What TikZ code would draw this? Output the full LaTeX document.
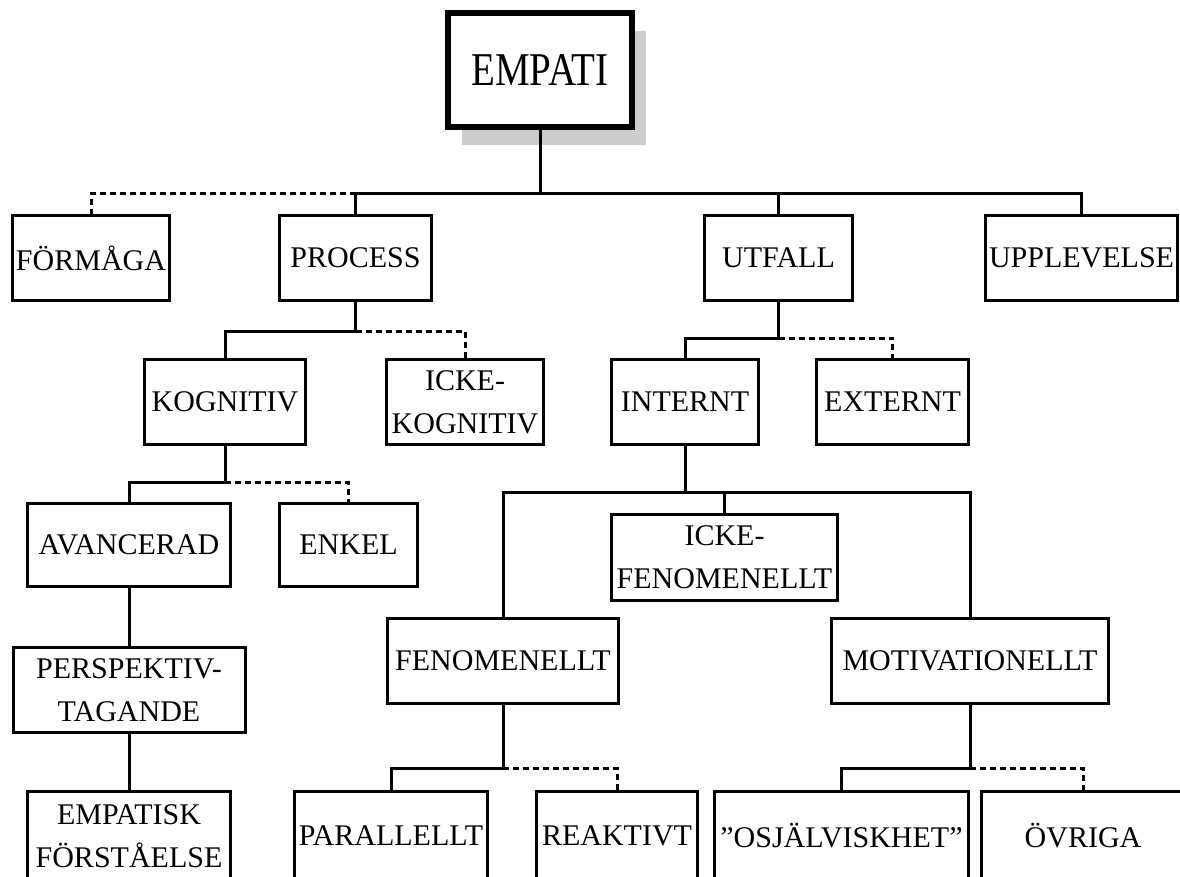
\documentclass[tikz,border=0pt]{standalone}
\usepackage{fontspec}
\setmainfont{Liberation Serif}
\usetikzlibrary{shadows}
\tikzset{
	boxstyle/.style={rectangle,draw=black,line width=3pt,fill=white,inner sep=0pt,align=center,font=\fontsize{30}{43}\selectfont},
	linkstyle/.style={draw=black,line width=3pt},
	optstyle/.style={draw=black,line width=3pt,dash pattern=on 6pt off 4pt}
}

\begin{document}
\begin{tikzpicture}[x=1pt,y=-1pt]
	\useasboundingbox[fill=white] (0,0) rectangle (1180,876);
	% top
	\node[boxstyle,line width=6pt,minimum width=184pt,minimum height=114pt,general shadow={fill=black!20,shadow xshift=14pt,shadow yshift=-18pt}] (empati) at (540,70) {\fontsize{47}{50}\selectfont\scalebox{0.83}[1]{EMPATI}};
	% level 1
	\node[boxstyle,minimum width=157pt,minimum height=85pt] (formaga) at (91,258) {FÖRMÅGA};
	\node[boxstyle,minimum width=152pt,minimum height=85pt] (process) at (355.5,258) {PROCESS};
	\node[boxstyle,minimum width=148pt,minimum height=85pt] (utfall) at (778.5,258) {UTFALL};
	\node[boxstyle,minimum width=192pt,minimum height=85pt] (upplevelse) at (1081.5,258) {UPPLEVELSE};
	% level 2
	\node[boxstyle,minimum width=161pt,minimum height=85pt] (kognitiv) at (225,402) {KOGNITIV};
	\node[boxstyle,minimum width=157pt,minimum height=85pt] (ickekog) at (465,402) {ICKE-\\KOGNITIV};
	\node[boxstyle,minimum width=147pt,minimum height=85pt] (internt) at (685,402) {INTERNT};
	\node[boxstyle,minimum width=152pt,minimum height=85pt] (externt) at (892.5,402) {EXTERNT};
	% level 3
	\node[boxstyle,minimum width=203pt,minimum height=83pt] (avancerad) at (129,545) {AVANCERAD};
	\node[boxstyle,minimum width=138pt,minimum height=83pt] (enkel) at (348.5,545) {ENKEL};
	\node[boxstyle,minimum width=226pt,minimum height=86pt] (ickefen) at (724.5,557.5) {ICKE-\\FENOMENELLT};
	\node[boxstyle,minimum width=232pt,minimum height=85pt] (perspektiv) at (129,690) {PERSPEKTIV-\\TAGANDE};
	\node[boxstyle,minimum width=231pt,minimum height=85pt] (fenomenellt) at (503,661) {FENOMENELLT};
	\node[boxstyle,minimum width=277pt,minimum height=85pt] (motivationellt) at (970,661) {MOTIVATIONELLT};
	% bottom row
	\node[boxstyle,minimum width=203pt,minimum height=89pt] (empatisk) at (129,836) {EMPATISK\\FÖRSTÅELSE};
	\node[boxstyle,minimum width=193pt,minimum height=89pt] (parallellt) at (391,836) {PARALLELLT};
	\node[boxstyle,minimum width=161pt,minimum height=89pt] (reaktivt) at (617,836) {REAKTIVT};
	\node[boxstyle,minimum width=254pt,minimum height=89pt] (osjalv) at (841.5,836) {”OSJÄLVISKHET”};
	\node[boxstyle,minimum width=203pt,minimum height=89pt] (ovriga) at (1083,836) {ÖVRIGA};
	% buses
	\coordinate (bus0) at (540,193);
	\coordinate (bus1) at (355.5,331);
	\coordinate (bus2) at (778.5,338);
	\coordinate (bus3) at (225,482);
	\coordinate (bus4) at (685,492);
	\coordinate (bus5) at (503,768);
	\coordinate (bus6) at (970,768);
	% connectors
	\draw[linkstyle] (empati.south) -- (bus0) -| (upplevelse.north);
	\draw[linkstyle] (bus0) -| (process.north);
	\draw[linkstyle] (bus0) -| (utfall.north);
	\draw[optstyle] (process.north |- bus0) -| (formaga.north);
	\draw[linkstyle] (process.south) -- (bus1) -| (kognitiv.north);
	\draw[optstyle] (bus1) -| (ickekog.north);
	\draw[linkstyle] (utfall.south) -- (bus2) -| (internt.north);
	\draw[optstyle] (bus2) -| (externt.north);
	\draw[linkstyle] (kognitiv.south) -- (bus3) -| (avancerad.north);
	\draw[optstyle] (bus3) -| (enkel.north);
	\draw[linkstyle] (internt.south) -- (bus4) -| (fenomenellt.north);
	\draw[linkstyle] (bus4) -| (motivationellt.north);
	\draw[linkstyle] (bus4) -| (ickefen.north);
	\draw[linkstyle] (avancerad.south) -- (perspektiv.north);
	\draw[linkstyle] (perspektiv.south) -- (empatisk.north);
	\draw[linkstyle] (fenomenellt.south) -- (bus5) -| (parallellt.north);
	\draw[optstyle] (bus5) -| (reaktivt.north);
	\draw[linkstyle] (motivationellt.south) -- (bus6) -| (osjalv.north);
	\draw[optstyle] (bus6) -| (ovriga.north);
\end{tikzpicture}
\end{document}
